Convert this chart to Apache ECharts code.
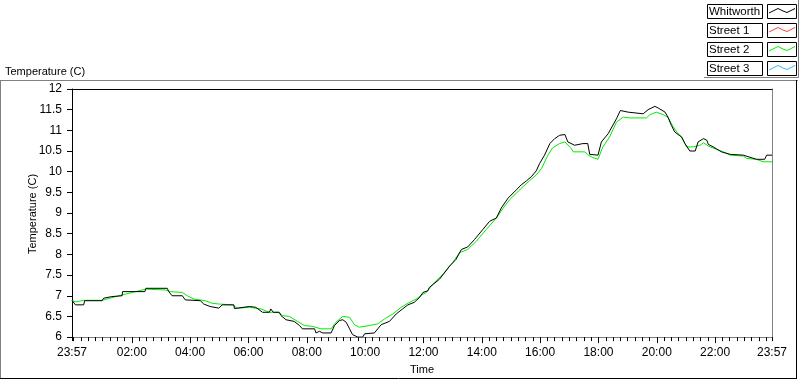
<!DOCTYPE html>
<html>
<head>
<meta charset="utf-8">
<script src="https://cdn.jsdelivr.net/npm/echarts@6/dist/echarts.min.js"></script>
<style>
  html, body { margin: 0; padding: 0; background: #fff; }
  #chart { width: 800px; height: 380px; }
</style>
</head>
<body>
<div id="chart"></div>
<script>
// minutes since 00:00 (23:57 of the day before is -3)
var whitTime = [-3, 4, 21, 23, 59, 62, 79, 83, 100, 101, 147, 149, 193, 196, 203, 224, 230, 261, 268, 281,
  299, 306, 330, 331, 362, 375, 389, 403, 406, 411, 423, 427, 437, 454, 465, 471, 496, 499, 506, 513,
  530, 537, 547, 554, 561, 568, 574, 585, 595, 599, 619, 633, 650, 664, 677, 688, 701, 712, 719, 729,
  732, 753, 774, 787, 798, 811, 825, 842, 856, 870, 880, 894, 911, 921, 932, 942, 952, 959, 969, 980,
  990, 1000, 1011, 1017, 1031, 1048, 1058, 1062, 1079, 1086, 1100, 1117, 1125, 1141, 1145, 1172, 1182, 1196, 1203, 1217,
  1223, 1230, 1237, 1246, 1251, 1258, 1268, 1279, 1285, 1296, 1303, 1306, 1316, 1333, 1351, 1378, 1405, 1422, 1426, 1437];
var whitTemp = [6.89, 6.78, 6.78, 6.88, 6.88, 6.94, 6.98, 7.00, 7.00, 7.10, 7.10, 7.18, 7.18, 7.10, 7.00, 7.00, 6.90, 6.88, 6.80, 6.74,
  6.70, 6.78, 6.78, 6.69, 6.74, 6.72, 6.60, 6.60, 6.68, 6.60, 6.60, 6.52, 6.42, 6.38, 6.28, 6.20, 6.20, 6.10, 6.14, 6.10,
  6.10, 6.28, 6.40, 6.42, 6.36, 6.20, 6.06, 6.00, 6.00, 6.08, 6.10, 6.30, 6.38, 6.56, 6.68, 6.78, 6.84, 6.96, 7.08, 7.12,
  7.20, 7.40, 7.72, 7.88, 8.12, 8.18, 8.36, 8.60, 8.80, 8.88, 9.12, 9.36, 9.56, 9.68, 9.78, 9.88, 10.02, 10.20, 10.40, 10.68,
  10.80, 10.88, 10.90, 10.72, 10.64, 10.68, 10.68, 10.42, 10.40, 10.72, 10.92, 11.28, 11.48, 11.44, 11.40, 11.40, 11.50, 11.58, 11.54, 11.44,
  11.32, 11.12, 10.96, 10.88, 10.84, 10.68, 10.50, 10.50, 10.72, 10.80, 10.76, 10.66, 10.60, 10.48, 10.42, 10.40, 10.30, 10.30, 10.40, 10.40];

var st2Time = [-3, 5, 21, 59, 75, 100, 149, 189, 199, 224, 234, 248, 271, 285, 299, 327, 337, 362, 386, 403,
  423, 430, 444, 461, 475, 492, 509, 530, 540, 554, 568, 578, 588, 609, 626, 640, 657, 674, 688, 705,
  719, 726, 739, 760, 780, 794, 811, 829, 849, 870, 884, 897, 911, 925, 938, 952, 963, 976, 986, 1000,
  1011, 1024, 1028, 1052, 1059, 1069, 1079, 1089, 1103, 1117, 1131, 1145, 1179, 1186, 1199, 1213, 1223, 1230, 1241, 1251,
  1261, 1275, 1289, 1296, 1306, 1323, 1337, 1351, 1378, 1385, 1405, 1419, 1437];
var st2Temp = [6.89, 6.85, 6.89, 6.89, 6.94, 7.02, 7.16, 7.14, 7.10, 7.08, 7.00, 6.92, 6.88, 6.82, 6.80, 6.78, 6.70, 6.72, 6.68, 6.60,
  6.60, 6.52, 6.50, 6.38, 6.28, 6.26, 6.20, 6.20, 6.36, 6.50, 6.48, 6.30, 6.24, 6.28, 6.32, 6.44, 6.56, 6.72, 6.82, 6.92,
  7.04, 7.08, 7.28, 7.52, 7.80, 8.04, 8.12, 8.32, 8.60, 8.88, 9.12, 9.32, 9.48, 9.64, 9.78, 9.92, 10.08, 10.40, 10.58, 10.68,
  10.72, 10.56, 10.48, 10.48, 10.40, 10.34, 10.30, 10.60, 10.84, 11.20, 11.32, 11.30, 11.30, 11.38, 11.44, 11.38, 11.32, 11.16, 10.96, 10.84,
  10.60, 10.60, 10.64, 10.70, 10.62, 10.54, 10.48, 10.40, 10.38, 10.32, 10.30, 10.24, 10.24];

// no samples visible for these two
var st1Time = [], st1Temp = [];
var st3Time = [], st3Temp = [];

var seriesNames = ['Whitworth', 'Street 1', 'Street 2', 'Street 3'];
var seriesColors = ['#000000', '#ff4040', '#00ee00', '#33bbff'];

var majorTicks = [120, 240, 360, 480, 600, 720, 840, 960, 1080, 1200, 1320];
var labelTicks = [-3].concat(majorTicks, [1437]);
var minorTicks = [-3, 1437];
for (var m = 0; m < 1440; m += 15) minorTicks.push(m);

function pairs(t, v) {
    return t.map(function (x, i) { return [x, v[i]]; });
}
function hhmm(v) {
    var m = Math.round((v + 1440) % 1440);
    var h = Math.floor(m / 60), mm = m % 60;
    return (h < 10 ? '0' : '') + h + ':' + (mm < 10 ? '0' : '') + mm;
}

var chart = echarts.init(document.getElementById('chart'));
var font = 'Liberation Sans, Arial, sans-serif';

// legend boxes (LabVIEW style)
var legendGraphics = [
    { type: 'polyline', silent: true, shape: { points: [[704, 77.5], [798.5, 77.5], [798.5, 0]] },
      style: { stroke: '#808080', fill: null, lineWidth: 1 } }
];
seriesNames.forEach(function (name, i) {
    var y = 4.5 + i * 19;
    legendGraphics.push({ type: 'rect', shape: { x: 707.5, y: y, width: 55, height: 14 },
        style: { fill: '#fff', stroke: '#000', lineWidth: 1 } });
    legendGraphics.push({ type: 'text', x: 709, y: y + 7.5,
        style: { text: name, font: '11.5px ' + font, fill: '#000', verticalAlign: 'middle' } });
    legendGraphics.push({ type: 'rect', shape: { x: 767.5, y: y, width: 29, height: 14 },
        style: { fill: '#fff', stroke: '#000', lineWidth: 1 } });
    var zz = [[769, 8], [774, 5.5], [778, 3.5], [783, 6], [787, 7.5], [792, 5], [795, 3.5]];
    legendGraphics.push({ type: 'polyline',
        shape: { points: zz.map(function (p) { return [p[0], y + p[1] + 0.5]; }) },
        style: { stroke: seriesColors[i], fill: null, lineWidth: 1 } });
});

var option = {
    animation: false,
    backgroundColor: '#fff',
    grid: { left: 72, right: 28, top: 89, bottom: 40 },
    graphic: legendGraphics.concat([
        { type: 'line', shape: { x1: 0, y1: 80.5, x2: 798, y2: 80.5 }, style: { stroke: '#808080', lineWidth: 1 } },
        { type: 'line', shape: { x1: 0.5, y1: 80, x2: 0.5, y2: 378 }, style: { stroke: '#808080', lineWidth: 1 } },
        { type: 'line', shape: { x1: 0, y1: 378.5, x2: 797, y2: 378.5 }, style: { stroke: '#000', lineWidth: 1 } },
        { type: 'line', shape: { x1: 796.5, y1: 80, x2: 796.5, y2: 379 }, style: { stroke: '#000', lineWidth: 1 } },
        { type: 'text', x: 5, y: 72, style: { text: 'Temperature (C)', font: '11px ' + font, fill: '#000', verticalAlign: 'middle' } },
        { type: 'text', x: 33, y: 214, rotation: Math.PI / 2,
          style: { text: 'Temperature (C)', font: '11px ' + font, fill: '#000', align: 'center', verticalAlign: 'middle' } }
    ]),
    xAxis: [
        {
            type: 'value', min: -3, max: 1437,
            name: 'Time', nameLocation: 'middle', nameGap: 24,
            nameTextStyle: { fontFamily: font, fontSize: 11, color: '#000' },
            axisLine: { onZero: false, lineStyle: { color: '#808080', width: 1 } },
            axisTick: { customValues: majorTicks, length: 6, lineStyle: { color: '#000' } },
            axisLabel: { customValues: labelTicks, formatter: hhmm, margin: 10,
                fontFamily: font, fontSize: 12, color: '#000', showMinLabel: true, showMaxLabel: true },
            splitLine: { show: false }
        },
        {
            type: 'value', min: -3, max: 1437, position: 'bottom',
            axisLine: { show: false, onZero: false },
            axisTick: { customValues: minorTicks, length: 4, lineStyle: { color: '#000' } },
            axisLabel: { show: false },
            splitLine: { show: false }
        },
        {
            type: 'value', min: -3, max: 1437, position: 'top',
            axisLine: { onZero: false, lineStyle: { color: '#000', width: 1 } },
            axisTick: { show: false }, axisLabel: { show: false }, splitLine: { show: false }
        }
    ],
    yAxis: [
        {
            type: 'value', min: 6, max: 12, interval: 0.5,
            axisLine: { show: true, onZero: false, lineStyle: { color: '#000', width: 1 } },
            axisTick: { show: true, length: 5, lineStyle: { color: '#000' } },
            axisLabel: { margin: 10, fontFamily: font, fontSize: 12, color: '#000' },
            splitLine: { show: false }
        },
        {
            type: 'value', min: 6, max: 12, position: 'right',
            axisLine: { show: true, onZero: false, lineStyle: { color: '#808080', width: 1 } },
            axisTick: { show: false }, axisLabel: { show: false }, splitLine: { show: false }
        }
    ],
    series: [
        { name: 'Whitworth', type: 'line', data: pairs(whitTime, whitTemp), z: 5 },
        { name: 'Street 1', type: 'line', data: pairs(st1Time, st1Temp), z: 3 },
        { name: 'Street 2', type: 'line', data: pairs(st2Time, st2Temp), z: 4 },
        { name: 'Street 3', type: 'line', data: pairs(st3Time, st3Temp), z: 3 }
    ].map(function (s, i) {
        s.showSymbol = false;
        s.symbol = 'none';
        s.lineStyle = { color: seriesColors[i], width: 1 };
        s.itemStyle = { color: seriesColors[i] };
        return s;
    })
};
chart.setOption(option);
</script>
</body>
</html>
